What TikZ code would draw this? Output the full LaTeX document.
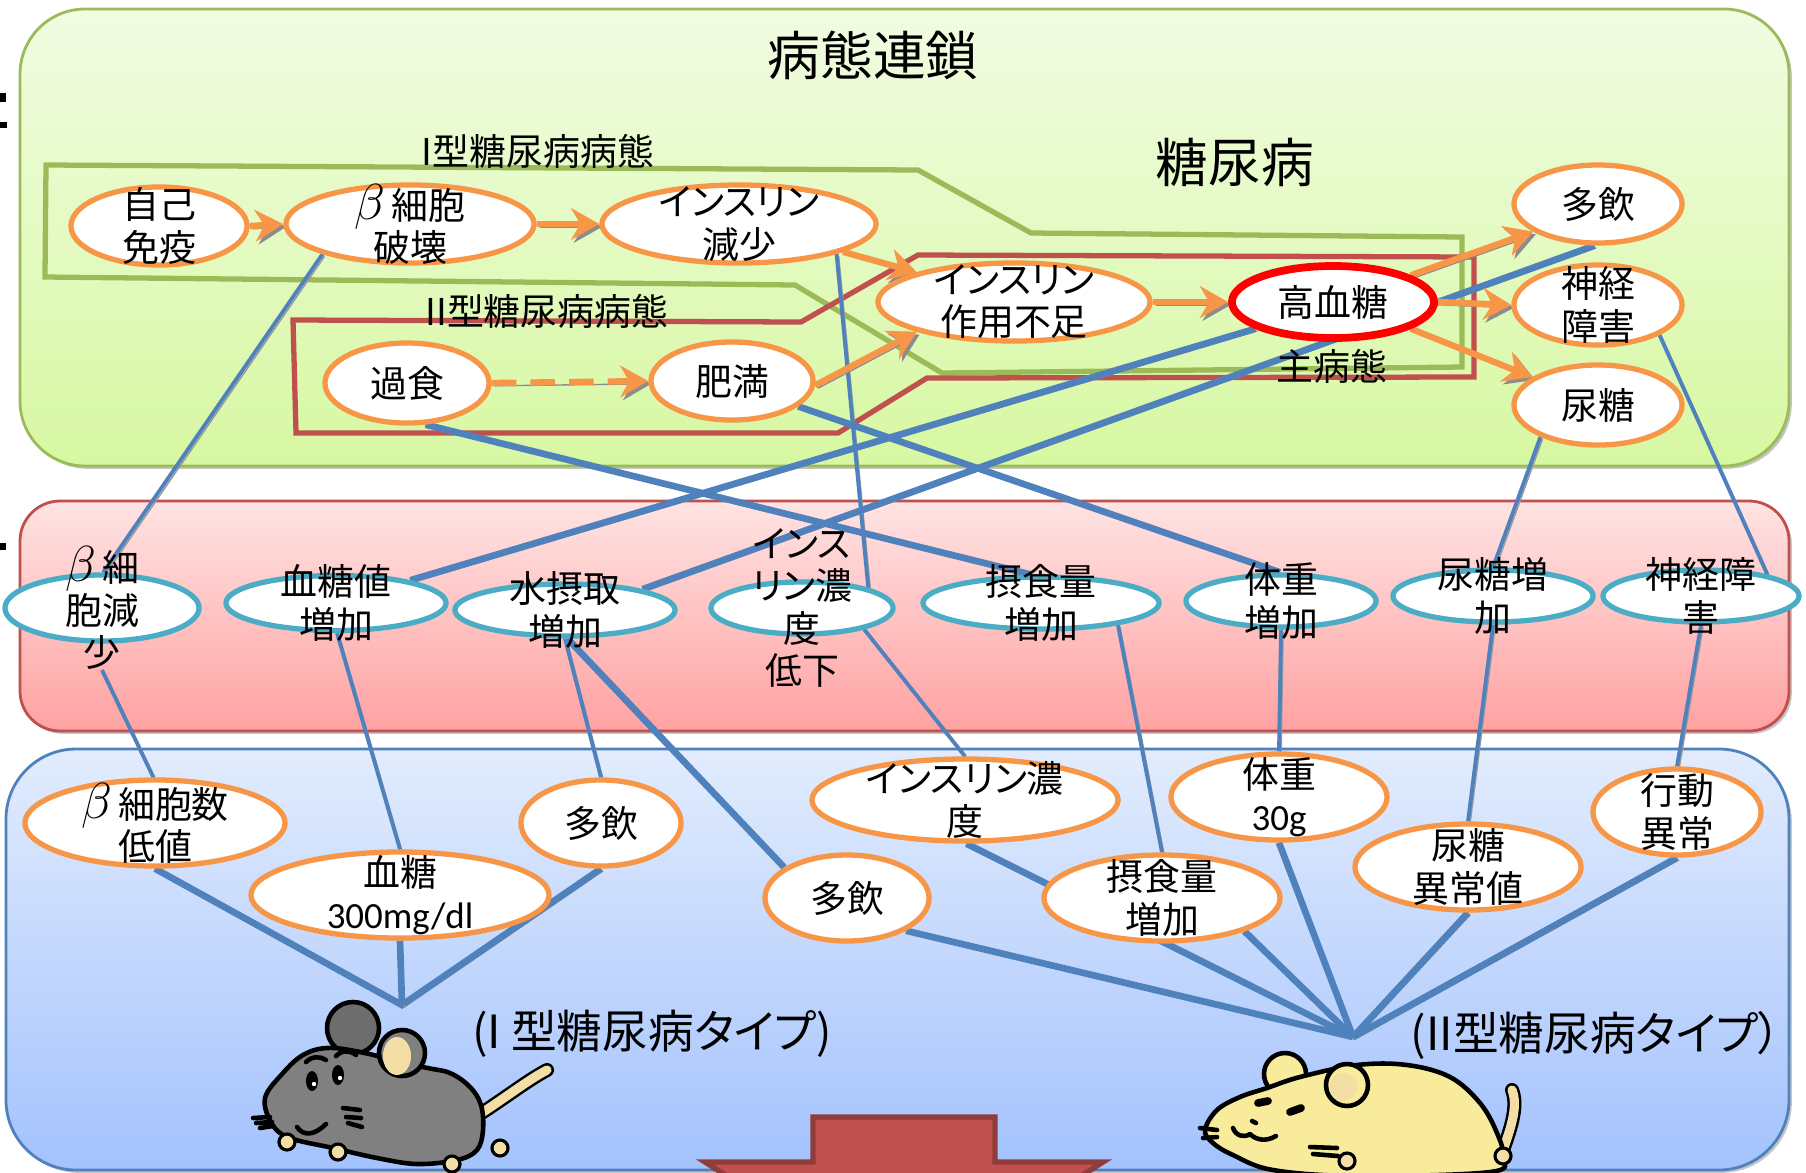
\documentclass[tikz,border=0pt]{standalone}
\usepackage{fontspec}
\newfontfamily\jp[RawFeature=+palt]{Noto Sans CJK JP}
\newfontfamily\lat{Carlito}
\usepackage{tikz}
\usetikzlibrary{arrows.meta, shapes.geometric, shadows}
\usepackage{xcolor}

\definecolor{nodeorange}{HTML}{F79646}
\definecolor{nodecyan}{HTML}{4BACC6}
\definecolor{linkblue}{HTML}{4F81BD}
\definecolor{grpgreen}{HTML}{9BBB59}
\definecolor{grpred}{HTML}{C0504D}
\definecolor{greentop}{HTML}{F1FCE2}
\definecolor{greenbot}{HTML}{D7F8A2}
\definecolor{redtop}{HTML}{FFE3E3}
\definecolor{redbot}{HTML}{FFA2A2}
\definecolor{bluetop}{HTML}{E2ECFD}
\definecolor{bluebot}{HTML}{A3C2FD}
\definecolor{mousegrey}{HTML}{808080}
\definecolor{mouseyellow}{HTML}{F8EC9C}
\definecolor{pawbeige}{HTML}{F3DFA6}

\pgfdeclarelayer{back}
\pgfdeclarelayer{wires}
\pgfsetlayers{back,wires,main}

\newcommand{\betaj}{{\fontsize{14}{12}\selectfont$\beta$}\,}

\begin{document}
\begin{tikzpicture}[x=0.01cm, y=-0.01cm,
    txt/.style={font=\jp\fontsize{10.5}{12}\selectfont, align=center, inner sep=0pt},
    bigtxt/.style={font=\jp\fontsize{15}{15}\selectfont, inner sep=0pt},
    typetxt/.style={font=\jp\fontsize{13}{14}\selectfont, inner sep=0pt},
    oval/.style={ellipse, draw=nodeorange, line width=1.5pt, fill=white, inner sep=0pt},
    cyoval/.style={oval, draw=nodecyan},
    flow/.style={draw=nodeorange, line width=1.8pt, -{Stealth[length=8pt, width=9pt]},
      preaction={draw=black!45, transform canvas={xshift=0.8pt, yshift=-0.8pt}}},
    wire/.style={draw=linkblue, line width=1.1pt,
      preaction={draw=black!40, transform canvas={xshift=0.6pt, yshift=-0.6pt}}},
    heavy/.style={wire, line width=1.9pt},
    panel/.style={line width=0.8pt,
      drop shadow={shadow xshift=0.8pt, shadow yshift=-0.8pt, fill=black!45}},
  ]
  \useasboundingbox (0,0) rectangle (1806,1172);

  % three bands
  \begin{pgfonlayer}{back}
    \draw[panel, draw=grpgreen, top color=greentop, bottom color=greenbot, rounded corners=0.65cm]
      (20,9) rectangle (1789,466);
    \draw[panel, draw=grpred, top color=redtop, bottom color=redbot, rounded corners=0.4cm]
      (20,501) rectangle (1789,731);
    \draw[panel, draw=linkblue, top color=bluetop, bottom color=bluebot, rounded corners=0.7cm]
      (6,749) rectangle (1789,1170);
    \fill (0,93) rectangle (6,102);
    \fill (0,122) rectangle (7,128);
    \fill (0,543) rectangle (6,550);
    % down arrow, cut by the page edge
    \draw[fill=grpred, draw=grpred!75!black, line width=1.5pt]
      (813,1117) -- (995,1117) -- (995,1162) -- (1103,1162) -- (904,1290)
      -- (705,1162) -- (813,1162) -- cycle;
  \end{pgfonlayer}

  \node[bigtxt] (title) at (873,55) {病態連鎖};
  \node[bigtxt] (dm) at (1235,162) {糖尿病};
  \node[txt] (grpI) at (538,151) {I型糖尿病病態};
  \node[txt] (grpII) at (547,311) {II型糖尿病病態};
  \node[txt] (shubyo) at (1332,366) {主病態};

  % pathology chain
  \node[oval, minimum width=1.76cm, minimum height=0.78cm, label={[txt]center:自己\\免疫}] (jiko) at (159,226) {};
  \node[oval, minimum width=2.48cm, minimum height=0.78cm, label={[txt]center:\betaj 細胞\\破壊}] (bhakai) at (410,224) {};
  \node[oval, minimum width=2.74cm, minimum height=0.78cm, label={[txt]center:インスリン\\減少}] (insgen) at (739,224) {};
  \node[oval, minimum width=1.64cm, minimum height=0.80cm, label={[txt]center:過食}] (kashoku) at (407,383) {};
  \node[oval, minimum width=1.62cm, minimum height=0.78cm, label={[txt]center:肥満}] (himan) at (732,381) {};
  \node[oval, minimum width=2.72cm, minimum height=0.78cm, label={[txt]center:インスリン\\作用不足}] (insfusoku) at (1014,302) {};
  \node[oval, draw=red, line width=2.2pt, minimum width=2.02cm, minimum height=0.72cm, label={[txt]center:高血糖}] (kokettou) at (1333,302) {};
  \node[oval, minimum width=1.68cm, minimum height=0.78cm, label={[txt]center:多飲}] (tain) at (1598,204) {};
  \node[oval, minimum width=1.68cm, minimum height=0.80cm, label={[txt]center:神経\\障害}] (shinkei) at (1598,305) {};
  \node[oval, minimum width=1.68cm, minimum height=0.80cm, label={[txt]center:尿糖}] (nyoutou) at (1598,405) {};

  % findings
  \node[cyoval, minimum width=1.94cm, minimum height=0.66cm, label={[txt, name=mbetatxt]center:\betaj 細\\胞減\\少}] (mbeta) at (102,608) {};
  \node[cyoval, minimum width=2.20cm, minimum height=0.55cm, label={[txt]center:血糖値\\増加}] (mketto) at (336,603) {};
  \node[cyoval, minimum width=2.20cm, minimum height=0.52cm, label={[txt]center:水摂取\\増加}] (msui) at (565,610) {};
  \node[cyoval, minimum width=1.82cm, minimum height=0.52cm, label={[txt]center:インス\\リン濃\\度\\低下}] (minsu) at (802,608) {};
  \node[cyoval, minimum width=2.36cm, minimum height=0.52cm, label={[txt]center:摂食量\\増加}] (msesshoku) at (1041,603) {};
  \node[cyoval, minimum width=1.90cm, minimum height=0.52cm, label={[txt]center:体重\\増加}] (mtaiju) at (1281,601) {};
  \node[cyoval, minimum width=2.00cm, minimum height=0.52cm, label={[txt]center:尿糖増\\加}] (mnyoutou) at (1493,596) {};
  \node[cyoval, minimum width=1.96cm, minimum height=0.52cm, label={[txt]center:神経障\\害}] (mshinkei) at (1701,596) {};

  % model mice
  \node[oval, minimum width=2.60cm, minimum height=0.86cm, label={[txt]center:\betaj 細胞数\\低値}] (bsu) at (155,823) {};
  \node[oval, minimum width=2.98cm, minimum height=0.86cm, label={[txt]center:血糖\\{\lat 300mg/dl}}] (bketto) at (400,895) {};
  \node[oval, minimum width=1.60cm, minimum height=0.86cm, label={[txt]center:多飲}] (btain1) at (601,823) {};
  \node[oval, minimum width=3.06cm, minimum height=0.82cm, label={[txt]center:インスリン濃\\度}] (bins) at (965,800) {};
  \node[oval, minimum width=1.64cm, minimum height=0.86cm, label={[txt]center:多飲}] (btain2) at (847,898) {};
  \node[oval, minimum width=2.36cm, minimum height=0.86cm, label={[txt]center:摂食量\\増加}] (bsesshoku) at (1162,898) {};
  \node[oval, minimum width=2.16cm, minimum height=0.86cm, label={[txt]center:体重\\{\lat 30g}}] (btaiju) at (1279,797) {};
  \node[oval, minimum width=2.26cm, minimum height=0.86cm, label={[txt]center:尿糖\\異常値}] (bnyoutou) at (1468,867) {};
  \node[oval, minimum width=1.68cm, minimum height=0.86cm, label={[txt]center:行動\\異常}] (bkoudou) at (1677,812) {};

  \coordinate (hubI) at (402,1005);
  \coordinate (hubII) at (1353,1037);
  \node[typetxt] (typeI) at (652,1034) {(I 型糖尿病タイプ)};
  \node[typetxt] (typeII) at (1596,1035) {(II型糖尿病タイプ）};

  \begin{pgfonlayer}{wires}
    % type I / type II outlines
    \draw[grpgreen, line width=1.5pt] (46,165) -- (918,170) -- (1031,233) -- (1462,237)
      -- (1462,367) -- (942,373) -- (795,285) -- (45,277) -- cycle;
    \draw[grpred, line width=1.5pt] (293,320) -- (801,322) -- (918,255) -- (1474,257)
      -- (1474,377) -- (927,378) -- (838,433) -- (296,433) -- cycle;

    % chain to findings
    \draw[wire] (bhakai.199) -- (mbeta.88);
    \draw[wire] (insgen.-17) -- (minsu.17);
    \draw[heavy] (mketto.17) -- (kokettou.-161);
    \draw[heavy] (msui.15) -- (tain.-95);
    \draw[heavy] (kashoku.-66) -- (msesshoku.110);
    \draw[heavy] (himan.-21) -- (mtaiju.92);
    \draw[wire] (nyoutou.209) -- (mnyoutou.90);
    \draw[wire] (shinkei.-26) -- (mshinkei.18);

    % findings to mouse data
    \draw[wire] (mbetatxt.south) -- (bsu.92);
    \draw[wire] (mketto.-88) -- (bketto.90);
    \draw[wire] (msui.-90) -- (btain1.90);
    \draw[heavy] (msui.-85) -- (btain2.154);
    \draw[wire] (minsu.-19) -- (bins.90);
    \draw[wire] (msesshoku.-16) -- (bsesshoku.90);
    \draw[wire] (mtaiju.-90) -- (btaiju.90);
    \draw[wire] (mnyoutou.-90) -- (bnyoutou.90);
    \draw[wire] (mshinkei.-90) -- (bkoudou.90);

    % data to each mouse
    \draw[heavy] (bsu.-90) -- (hubI) -- (btain1.-90);
    \draw[heavy] (bketto.-90) -- (hubI);
    \draw[heavy] (btain2.-29) -- (hubII);
    \draw[heavy] (bins.-88) -- (hubII);
    \draw[heavy] (bsesshoku.-22) -- (hubII);
    \draw[heavy] (btaiju.-90) -- (hubII);
    \draw[heavy] (bnyoutou.-90) -- (hubII);
    \draw[heavy] (bkoudou.-90) -- (hubII);

    % causal arrows
    \draw[flow] (jiko.east) -- (bhakai.west);
    \draw[flow] (bhakai.east) -- (insgen.west);
    \draw[flow] (insgen.-15) -- (insfusoku.163);
    \draw[flow] (himan.-3) -- (insfusoku.197);
    \draw[flow, dash pattern=on 7pt off 4pt] (kashoku.east) -- (himan.west);
    \draw[flow] (insfusoku.east) -- (kokettou.west);
    \draw[flow] (kokettou.19) -- (tain.203);
    \draw[flow] (kokettou.east) -- (shinkei.west);
    \draw[flow] (kokettou.-19) -- (nyoutou.157);
  \end{pgfonlayer}

  % grey mouse
  \begin{scope}[line width=1.3pt, line join=round, line cap=round]
    \draw[fill=mousegrey!85!black] (353,1028) circle[radius=26];
    \draw[line width=4pt] (480,1114) .. controls (505,1098) and (528,1080) .. (547,1070);
    \draw[line width=2.6pt, pawbeige] (480,1114) .. controls (505,1098) and (528,1080) .. (547,1070);
    \draw[fill=mousegrey] plot[smooth cycle, tension=0.6] coordinates {(265,1098) (283,1073)
      (303,1055) (327,1048) (360,1052) (423,1067) (450,1073) (470,1087) (481,1105) (483,1130)
      (477,1150) (457,1160) (417,1164) (377,1158) (333,1148) (290,1138) (272,1124)};
    \draw[fill=mousegrey] (402,1053) circle[radius=23];
    \fill[pawbeige] (397,1056) ellipse[x radius=14, y radius=19];
    \fill (312,1081) ellipse[x radius=6, y radius=10];
    \fill (338,1075) ellipse[x radius=6, y radius=10];
    \fill[white] (314,1084) circle[radius=2.2];
    \fill[white] (340,1078) circle[radius=2.2];
    \draw (306,1062) .. controls (312,1056) and (320,1056) .. (326,1060);
    \draw (336,1056) .. controls (342,1050) and (350,1050) .. (356,1055);
    \draw (297,1127) .. controls (303,1136) and (314,1136) .. (326,1124);
    \draw (253,1118) -- (270,1117) (256,1123) -- (272,1122) (260,1128) -- (273,1126);
    \draw (343,1108) -- (360,1110) (346,1117) -- (361,1118) (348,1123) -- (362,1127);
    \foreach \px/\py in {287/1142, 338/1152, 452/1164, 500/1148}
      \draw[fill=pawbeige, line width=0.9pt] (\px,\py) circle[radius=8];
  \end{scope}

  % yellow mouse
  \begin{scope}[line width=1.3pt, line join=round, line cap=round]
    \draw[fill=mouseyellow] (1285,1074) circle[radius=21];
    \draw[line width=4pt] (1503,1150) .. controls (1512,1125) and (1518,1105) .. (1512,1090);
    \draw[line width=2.6pt, pawbeige] (1503,1150) .. controls (1512,1125) and (1518,1105) .. (1512,1090);
    \draw[fill=mouseyellow] plot[smooth cycle, tension=0.6] coordinates {(1205,1130) (1217,1110)
      (1240,1097) (1267,1088) (1300,1077) (1357,1065) (1407,1065) (1450,1077) (1480,1103)
      (1497,1133) (1503,1157) (1490,1172) (1357,1176) (1273,1170) (1233,1155) (1213,1143)};
    \draw[fill=mouseyellow] (1347,1085) circle[radius=21];
    \fill[pawbeige] (1343,1087) circle[radius=14];
    \draw[line width=2.2pt] (1258,1103) -- (1268,1101) (1290,1112) -- (1301,1108);
    \draw (1252,1121) -- (1256,1123);
    \draw (1233,1128) .. controls (1236,1136) and (1244,1138) .. (1250,1134)
      .. controls (1256,1140) and (1266,1142) .. (1276,1136);
    \draw (1200,1128) -- (1217,1130) (1203,1138) -- (1217,1137);
    \draw (1310,1147) -- (1337,1148) (1313,1154) -- (1338,1156);
    \foreach \px/\py in {1347/1161, 1503/1156}
      \draw[fill=pawbeige, line width=0.9pt] (\px,\py) circle[radius=8];
  \end{scope}
\end{tikzpicture}
\end{document}
